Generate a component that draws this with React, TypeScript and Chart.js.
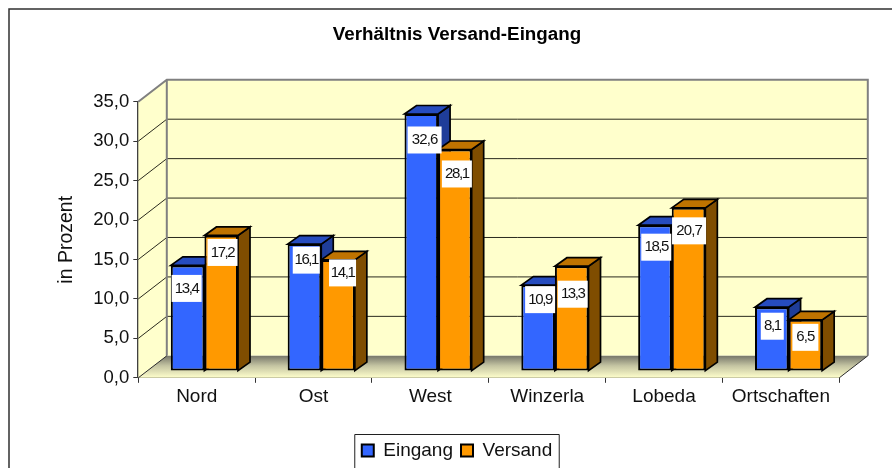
import React, { useEffect, useRef } from "react";
import { Chart, registerables } from "chart.js";

Chart.register(...registerables);

const categories = ["Nord", "Ost", "West", "Winzerla", "Lobeda", "Ortschaften"];
const eingang = [13.4, 16.1, 32.6, 10.9, 18.5, 8.1];
const versand = [17.2, 14.1, 28.1, 13.3, 20.7, 6.5];
const seriesNames = ["Eingang", "Versand"];
const yTicksMax = 35;
const yTickStep = 5;

// placement of each white value label relative to its bar's top centre
const labelDrops = [
  [23, 16, 26, 14.5, 22, 19],
  [17, 13, 24.5, 28, 23, 17.5],
];
const labelShifts = [
  [-1, 1.8, 3.3, 2, 1.3, 0.5],
  [1.3, 4.5, 2, 1, 0.5, 0],
];
const labelWidths = [
  [30, 27, 34, 30, 30, 23],
  [30, 27, 30, 30, 34, 26],
];

const FONT = "'Liberation Sans', Arial, sans-serif";
const WALL_DX = 28.5;
const WALL_DY = -22;
const BAR_DX = 7.7;
const BAR_DY = -6.7;
const SIDE_DX = 12;
const SIDE_DY = -8.5;
const fmt = (v: number) => v.toFixed(1).replace(".", ",");
const faces = [
  { side: "#1F3D99", top: "#264CBF" },
  { side: "#7F4D00", top: "#BF7300" },
];

function poly(ctx: CanvasRenderingContext2D, pts: number[][], fill?: any, stroke?: string, lw = 1) {
  ctx.beginPath();
  pts.forEach((p, i) => (i ? ctx.lineTo(p[0], p[1]) : ctx.moveTo(p[0], p[1])));
  ctx.closePath();
  if (fill) {
    ctx.fillStyle = fill;
    ctx.fill();
  }
  if (stroke) {
    ctx.strokeStyle = stroke;
    ctx.lineWidth = lw;
    ctx.stroke();
  }
}

const scene3d = {
  id: "scene3d",
  beforeDatasetsDraw(chart: any) {
    const { ctx, chartArea: a, scales } = chart;
    const y = scales.y;
    const L = a.left, R = a.right, B = a.bottom, T = a.top;
    ctx.save();
    // outer frame
    ctx.strokeStyle = "#303030";
    ctx.lineWidth = 1.5;
    ctx.strokeRect(9, 9, chart.width - 18, chart.height + 20);
    // left wall
    poly(ctx, [[L, B], [L, T], [L + WALL_DX, T + WALL_DY], [L + WALL_DX, B + WALL_DY]], "#FFFFCC");
    // back wall
    poly(ctx, [[L + WALL_DX, T + WALL_DY], [R + WALL_DX, T + WALL_DY], [R + WALL_DX, B + WALL_DY], [L + WALL_DX, B + WALL_DY]], "#FFFFCC");
    // floor
    const g = ctx.createLinearGradient(0, B + WALL_DY, 0, B);
    g.addColorStop(0, "#77776A");
    g.addColorStop(0.45, "#C4C4A2");
    g.addColorStop(1, "#FFFFCC");
    poly(ctx, [[L, B], [R, B], [R + WALL_DX, B + WALL_DY], [L + WALL_DX, B + WALL_DY]], g);
    // grid lines over both walls
    ctx.strokeStyle = "#2A2A1E";
    ctx.lineWidth = 1;
    for (let v = yTickStep; v < yTicksMax; v += yTickStep) {
      const py = y.getPixelForValue(v);
      ctx.beginPath();
      ctx.moveTo(L, py);
      ctx.lineTo(L + WALL_DX, py + WALL_DY);
      ctx.lineTo(R + WALL_DX, py + WALL_DY);
      ctx.stroke();
    }
    // wall outlines
    ctx.strokeStyle = "#808080";
    ctx.lineWidth = 2;
    ctx.beginPath();
    ctx.moveTo(L, T);
    ctx.lineTo(L + WALL_DX, T + WALL_DY);
    ctx.lineTo(R + WALL_DX, T + WALL_DY);
    ctx.lineTo(R + WALL_DX, B + WALL_DY);
    ctx.moveTo(L + WALL_DX, T + WALL_DY);
    ctx.lineTo(L + WALL_DX, B + WALL_DY);
    ctx.stroke();
    // floor edges
    ctx.strokeStyle = "#2A2A2A";
    ctx.lineWidth = 1;
    ctx.beginPath();
    ctx.moveTo(L, B);
    ctx.lineTo(L + WALL_DX, B + WALL_DY);
    ctx.moveTo(R, B);
    ctx.lineTo(R + WALL_DX, B + WALL_DY);
    ctx.stroke();
    ctx.restore();
  },
  // the library paints the first dataset last; here the second one must overlap the first
  beforeDatasetDraw() {
    return false;
  },
  afterDatasetsDraw(chart: any) {
    const { ctx } = chart;
    ctx.save();
    ctx.translate(BAR_DX, BAR_DY);
    chart.data.datasets.forEach((_: any, i: number) => {
      const meta = chart.getDatasetMeta(i);
      const f = faces[i];
      for (const bar of meta.data) {
        const { x, y, base, width } = bar.getProps(["x", "y", "base", "width"], true);
        const l = x - width / 2, r = x + width / 2;
        poly(ctx, [[r, y], [r + SIDE_DX, y + SIDE_DY], [r + SIDE_DX, base + SIDE_DY], [r, base]], f.side, "#000", 1.7);
        poly(ctx, [[l, y], [l + SIDE_DX, y + SIDE_DY], [r + SIDE_DX, y + SIDE_DY], [r, y]], f.top, "#000", 1.7);
      }
      meta.controller.draw();
    });
    ctx.font = `15px ${FONT}`;
    ctx.textAlign = "center";
    ctx.textBaseline = "middle";
    chart.data.datasets.forEach((ds: any, i: number) => {
      chart.getDatasetMeta(i).data.forEach((bar: any, j: number) => {
        const { x, y } = bar.getProps(["x", "y"], true);
        const cx = x + labelShifts[i][j];
        const cy = y + labelDrops[i][j];
        const w = labelWidths[i][j];
        const text = fmt(ds.data[j]);
        ctx.fillStyle = "#FFFFFF";
        ctx.fillRect(cx - w / 2, cy - 13.5, w, 27);
        ctx.fillStyle = "#111";
        (ctx as any).letterSpacing = text.includes("1") ? "-1.4px" : "-0.9px";
        ctx.fillText(text, cx, cy);
      });
    });
    ctx.restore();
  },
  afterDraw(chart: any) {
    const { ctx, legend } = chart;
    const boxes = legend.legendHitBoxes;
    if (!boxes || !boxes.length) return;
    const last = boxes[boxes.length - 1];
    ctx.save();
    ctx.strokeStyle = "#202020";
    ctx.lineWidth = 1;
    ctx.beginPath();
    const x0 = boxes[0].left - 7, x1 = last.left + last.width + 7;
    ctx.moveTo(x0, chart.height + 5);
    ctx.lineTo(x0, 434.5);
    ctx.lineTo(x1, 434.5);
    ctx.lineTo(x1, chart.height + 5);
    ctx.stroke();
    ctx.restore();
  },
};

export default function App() {
  const ref = useRef<HTMLCanvasElement>(null);
  useEffect(() => {
    document.body.style.margin = "0";
    document.body.style.overflow = "hidden";
    const chart = new Chart(ref.current!, {
      type: "bar",
      data: {
        labels: categories,
        datasets: [
          { label: seriesNames[0], data: eingang, backgroundColor: "#3366FF" },
          { label: seriesNames[1], data: versand, backgroundColor: "#FF9900" },
        ],
      },
      options: {
        animation: false,
        responsive: false,
        datasets: {
          bar: {
            categoryPercentage: 0.575,
            barPercentage: 1,
            borderWidth: 2,
            borderColor: "#000",
            borderSkipped: false,
            clip: false,
          },
        },
        plugins: {
          tooltip: { enabled: false },
          title: {
            display: true,
            text: "Verhältnis Versand-Eingang",
            color: "#000",
            font: { family: FONT, size: 18.8, weight: "bold" },
            padding: { top: 24, bottom: 55.2 },
          },
          legend: {
            position: "bottom",
            labels: {
              color: "#111",
              font: { family: FONT, size: 19 },
              boxWidth: 12,
              boxHeight: 12,
              padding: 8,
            },
          },
        },
        scales: {
          x: {
            offset: true,
            afterFit: (s: any) => {
              s.height = 55.2;
            },
            border: { color: "#333", width: 1 },
            grid: { display: true, drawOnChartArea: false, drawTicks: true, tickLength: 5, tickColor: "#333", offset: true },
            ticks: { color: "#111", font: { family: FONT, size: 19 }, padding: 3, maxRotation: 0 },
          },
          y: {
            min: 0,
            max: yTicksMax,
            afterFit: (s: any) => {
              s.width = 138.3;
            },
            border: { color: "#404040", width: 2 },
            grid: { display: true, drawOnChartArea: false, drawTicks: true, tickLength: 5, tickColor: "#333" },
            ticks: { stepSize: yTickStep, color: "#111", font: { family: FONT, size: 18.5 }, padding: 4, callback: (v: any) => fmt(Number(v)) },
            title: {
              display: true,
              text: "in Prozent",
              color: "#111",
              font: { family: FONT, size: 19.5 },
              padding: { top: 55, bottom: 0 },
            },
          },
          // empty right-hand strip: keeps the plot narrower than the title and legend span
          rightStrip: {
            axis: "y",
            position: "right",
            display: false,
            afterFit: (s: any) => {
              s.width = 74.7;
            },
          },
        },
      },
      plugins: [scene3d],
    } as any);
    return () => chart.destroy();
  }, []);
  return (
    <div style={{ width: 892, height: 468, overflow: "hidden" }}>
      <canvas ref={ref} width={914} height={470} style={{ display: "block" }} />
    </div>
  );
}
